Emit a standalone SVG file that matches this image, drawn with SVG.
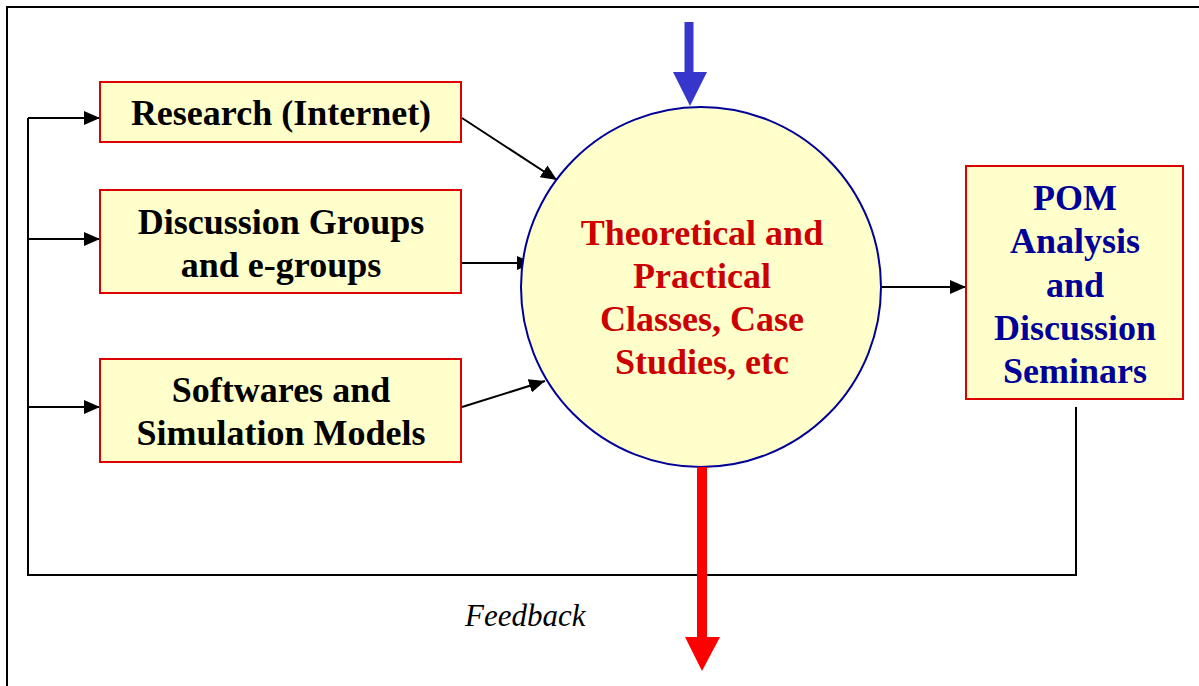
<svg xmlns="http://www.w3.org/2000/svg" width="1199" height="686" viewBox="0 0 1199 686">
<style>
.box{fill:#FFFFCC;stroke:#DD0000;stroke-width:2}
.lbl{font-family:"Liberation Serif","Times New Roman",serif;font-weight:bold;font-size:36px;text-anchor:middle;fill:#000}
.red{fill:#CC0000}
.navy{fill:#000099}
.ln{stroke:#000;stroke-width:2;fill:none}
</style>
<defs>
<marker id="ah" viewBox="0 0 16 14" refX="16" refY="7" markerWidth="16" markerHeight="14" markerUnits="userSpaceOnUse" orient="auto">
<path d="M0,0 L16,7 L0,14 Z" fill="#000"/>
</marker>
</defs>
<rect width="1199" height="686" fill="#fff"/>
<path d="M7,686 V7 H1199" fill="none" stroke="#000" stroke-width="2"/>
<g id="connectors">
<path class="ln" d="M1076,407 V575 H28 V118"/>
<line class="ln" x1="28" y1="118" x2="100" y2="118" marker-end="url(#ah)"/>
<line class="ln" x1="28" y1="239" x2="100" y2="239" marker-end="url(#ah)"/>
<line class="ln" x1="28" y1="407" x2="100" y2="407" marker-end="url(#ah)"/>
<line class="ln" x1="462" y1="118" x2="557" y2="180" marker-end="url(#ah)"/>
<line class="ln" x1="462" y1="263" x2="533" y2="263" marker-end="url(#ah)"/>
<line class="ln" x1="462" y1="407" x2="545" y2="381" marker-end="url(#ah)"/>
<line class="ln" x1="882" y1="287" x2="966" y2="287" marker-end="url(#ah)"/>
</g>
<g id="circle">
<circle cx="701" cy="287" r="180" fill="#FFFFCC" stroke="#000099" stroke-width="2"/>
<text class="lbl red" x="702" y="245">Theoretical and</text>
<text class="lbl red" x="702" y="288">Practical</text>
<text class="lbl red" x="702" y="331">Classes, Case</text>
<text class="lbl red" x="702" y="374">Studies, etc</text>
</g>
<g id="in-arrow">
<rect x="684.5" y="22" width="9" height="52" fill="#3636CC"/>
<path d="M673,72 L707,72 L690,106 Z" fill="#3636CC"/>
</g>
<g id="out-arrow">
<rect x="697" y="467" width="10" height="172" fill="#FF0000"/>
<path d="M685,637 L720,637 L702,671 Z" fill="#FF0000"/>
</g>
<g id="research">
<rect class="box" x="100" y="82" width="361" height="60"/>
<text class="lbl" x="281" y="125">Research (Internet)</text>
</g>
<g id="discussion">
<rect class="box" x="100" y="190" width="361" height="103"/>
<text class="lbl" x="281" y="234">Discussion Groups</text>
<text class="lbl" x="281" y="277">and e-groups</text>
</g>
<g id="softwares">
<rect class="box" x="100" y="359" width="361" height="103"/>
<text class="lbl" x="281" y="402">Softwares and</text>
<text class="lbl" x="281" y="445">Simulation Models</text>
</g>
<g id="pom">
<rect class="box" x="966" y="166" width="217" height="233"/>
<text class="lbl navy" x="1075" y="210">POM</text>
<text class="lbl navy" x="1075" y="253">Analysis</text>
<text class="lbl navy" x="1075" y="297">and</text>
<text class="lbl navy" x="1075" y="340">Discussion</text>
<text class="lbl navy" x="1075" y="383">Seminars</text>
</g>
<g id="feedback">
<text x="465" y="626" font-family="'Liberation Serif','Times New Roman',serif" font-style="italic" font-size="31" fill="#000">Feedback</text>
</g>
</svg>
